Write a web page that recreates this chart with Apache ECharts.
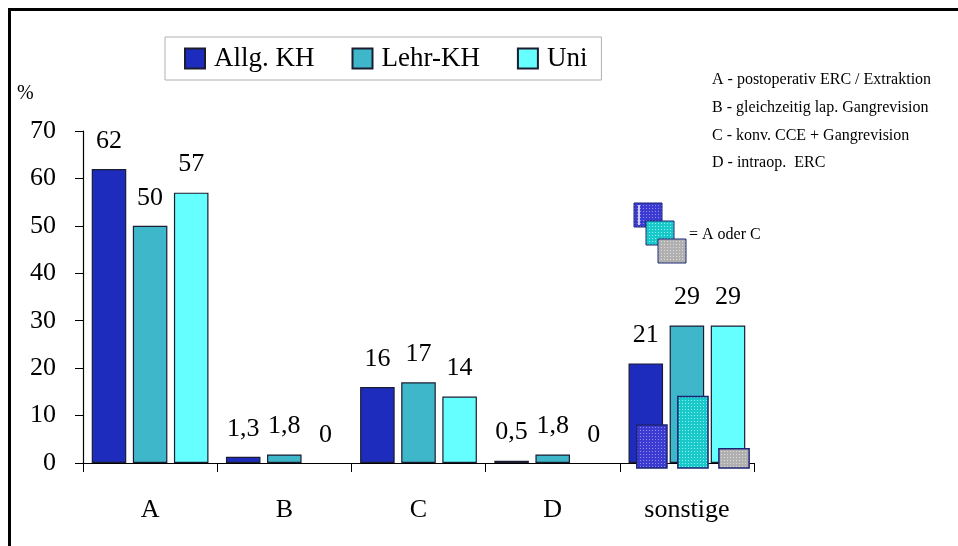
<!DOCTYPE html>
<html>
<head>
<meta charset="utf-8">
<script src="https://cdn.jsdelivr.net/npm/echarts@6/dist/echarts.min.js"></script>
<style>
  html, body { margin: 0; padding: 0; background: #fff; }
  #chart { width: 958px; height: 546px; }
</style>
</head>
<body>
<div id="chart"></div>
<script>
// Categories and percentages per hospital type
const categories = ['A', 'B', 'C', 'D', 'sonstige'];
const allgKH = [62, 1.3, 16, 0.5, 21];
const lehrKH = [50, 1.8, 17, 1.8, 29];
const uni = [57, 0, 14, 0, 29];
// Share of "sonstige" that is actually A or C, per hospital type
const aOderC = [8, 14, 3];
const aOderCCategory = 'sonstige';
// Value axis
const yMin = 0, yMax = 70, yStep = 10;
// Explanation of the category letters
const notes = [
  'A - postoperativ ERC / Extraktion',
  'B - gleichzeitig lap. Gangrevision',
  'C - konv. CCE + Gangrevision',
  'D - intraop.  ERC'
];
const noteMarker = '= A oder C';
const seriesNames = ['Allg. KH', 'Lehr-KH', 'Uni'];

const FONT = "'Liberation Serif', 'Times New Roman', serif";
const colors = ['#1e2cbe', '#3fb7cb', '#66ffff'];

// Stippled fills for the "A oder C" overlays
function stipple(base, dot) {
  const c = document.createElement('canvas');
  c.width = 3; c.height = 3;
  const g = c.getContext('2d');
  g.fillStyle = base; g.fillRect(0, 0, 3, 3);
  g.fillStyle = dot; g.fillRect(1, 1, 1, 1);
  return c;
}
const patterns = [
  { image: stipple('#3b3bd2', '#8c8cf0'), repeat: 'repeat' },
  { image: stipple('#19c9c9', '#8ef0f0'), repeat: 'repeat' },
  { image: stipple('#b0b0b0', '#dcdcdc'), repeat: 'repeat' }
];

const fmt = p => String(p.value).replace('.', ',');

function barSeries(name, data, color) {
  return {
    name: name,
    type: 'bar',
    // a zero value draws no outline, only its label
    data: data.map(v => v === 0 ? { value: v, itemStyle: { borderWidth: 0 } } : v),
    barGap: '19%',
    barCategoryGap: '13%',
    itemStyle: { color: color, borderColor: '#1c1c30', borderWidth: 1.2 },
    label: {
      show: true, position: 'top', distance: 15,
      formatter: fmt,
      fontFamily: FONT, fontSize: 26, color: '#000'
    },
    z: 2
  };
}

const catIdx = categories.indexOf(aOderCCategory);
const overlayData = aOderC.map((v, i) => [catIdx, i, v]);

const chart = echarts.init(document.getElementById('chart'));
chart.setOption({
  animation: false,
  backgroundColor: '#fff',
  grid: { left: 83, right: 204, top: 131, bottom: 83 },
  legend: {
    data: seriesNames.map(n => ({ name: n, icon: 'rect' })),
    left: 165, top: 37,
    orient: 'horizontal',
    itemWidth: 20, itemHeight: 20, itemGap: 37,
    borderColor: '#b0b0b0', borderWidth: 1,
    padding: [8, 14, 8, 19],
    textStyle: { fontFamily: FONT, fontSize: 27, color: '#000', padding: [0, 0, 0, 4] }
  },
  xAxis: {
    type: 'category',
    data: categories,
    axisLine: { lineStyle: { color: '#000', width: 1.2 } },
    axisTick: { show: true, length: 9, lineStyle: { color: '#000' } },
    axisLabel: { fontFamily: FONT, fontSize: 26, color: '#000', margin: 34 }
  },
  yAxis: {
    type: 'value',
    min: yMin, max: yMax, interval: yStep,
    axisLine: { show: true, lineStyle: { color: '#000', width: 1.2 } },
    axisTick: { show: true, length: 8, lineStyle: { color: '#000' } },
    splitLine: { show: false },
    axisLabel: { fontFamily: FONT, fontSize: 26, color: '#000', margin: 27 }
  },
  series: [
    barSeries(seriesNames[0], allgKH, colors[0]),
    barSeries(seriesNames[1], lehrKH, colors[1]),
    barSeries(seriesNames[2], uni, colors[2]),
    {
      name: noteMarker,
      type: 'custom',
      coordinateSystem: 'cartesian2d',
      data: overlayData,
      encode: { x: 0, y: 2 },
      clip: false,
      z: 5,
      renderItem: function (params, api) {
        const cat = api.value(0), grp = api.value(1), v = api.value(2);
        const top = api.coord([cat, v]);
        const base = api.coord([cat, 0]);
        const band = api.size([1, 0])[0];
        const offsets = [-0.306, 0, 0.306];
        const cx = top[0] + band * (offsets[grp] + 0.045);
        const w = band * 0.225;
        return {
          type: 'rect',
          shape: { x: cx - w / 2, y: top[1], width: w, height: base[1] + 5 - top[1] },
          style: { fill: patterns[grp], stroke: '#1b2473', lineWidth: 1.5 }
        };
      }
    }
  ],
  graphic: [
    // outer frame (top and left edges)
    { type: 'line', shape: { x1: 8, y1: 9.5, x2: 958, y2: 9.5 }, style: { stroke: '#000', lineWidth: 3 } },
    { type: 'line', shape: { x1: 9.5, y1: 8, x2: 9.5, y2: 546 }, style: { stroke: '#000', lineWidth: 3 } },
    // unit
    { type: 'text', left: 17, top: 84, style: { text: '%', font: '20px ' + FONT, fill: '#000' } },
    // explanation of letters
    ...notes.map((t, i) => ({
      type: 'text', left: 712, top: 72 + i * 27.7,
      style: { text: t, font: '16px ' + FONT, fill: '#000' }
    })),
    // key for the stippled overlays
    { type: 'rect', shape: { x: 634, y: 203, width: 28, height: 24 }, style: { fill: patterns[0], stroke: '#1b2473', lineWidth: 1 } },
    { type: 'line', shape: { x1: 639, y1: 205, x2: 639, y2: 225 }, style: { stroke: '#fff', lineWidth: 1.5 } },
    { type: 'rect', shape: { x: 646, y: 221, width: 28, height: 24 }, style: { fill: patterns[1], stroke: '#1b2473', lineWidth: 1 } },
    { type: 'rect', shape: { x: 658, y: 239, width: 28, height: 24 }, style: { fill: patterns[2], stroke: '#1b2473', lineWidth: 1 } },
    { type: 'text', left: 689, top: 227, style: { text: noteMarker, font: '16px ' + FONT, fill: '#000' } }
  ]
});
</script>
</body>
</html>
